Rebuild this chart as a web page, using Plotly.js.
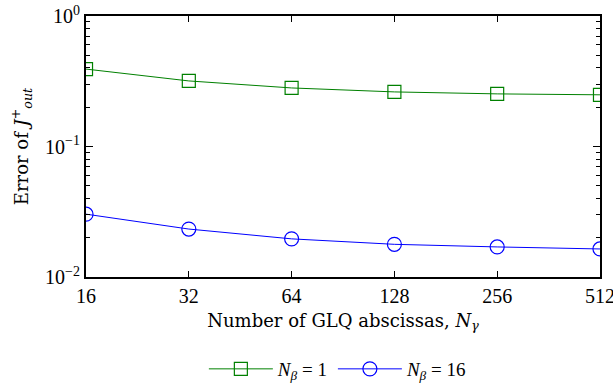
<!DOCTYPE html>
<html><head><meta charset="utf-8">
<script src="https://cdn.plot.ly/plotly-3.0.1.min.js"></script>
<style>body{margin:0;padding:0;background:#fff}#plot{width:613px;height:388px}</style>
</head><body><div id="plot"></div>
<script>
const nGamma = [16, 32, 64, 128, 256, 512];
const xTickLabels = ['16', '32', '64', '128', '256', '512'];
const errNb1 = [0.392, 0.318, 0.281, 0.262, 0.253, 0.249];
const errNb16 = [0.0303, 0.0233, 0.0196, 0.0178, 0.0170, 0.0164];
const yTickVals = [1, 0.1, 0.01];
const yTickLabels = ['10<sup>0</sup>', '10<sup>−1</sup>', '10<sup>−2</sup>'];
const yMinorVals = [0.02,0.03,0.04,0.05,0.06,0.07,0.08,0.09,0.2,0.3,0.4,0.5,0.6,0.7,0.8,0.9];

const tickFam = 'Liberation Serif, Times New Roman, serif';
const titleFam = 'DejaVu Serif, Liberation Serif, serif';
const eps = 1e-4;
const H = 388, T = 16, B = 0, plotBottom = 277;
const innerH = H - T - B;
const traces = [
  {x: nGamma, y: errNb1, mode: 'lines+markers', name: '<i>N</i><sub><i>β</i></sub> = 1',
   line: {color: '#008000', width: 1},
   marker: {symbol: 'square-open', size: 13, color: '#008000', line: {width: 1.2}}},
  {x: nGamma, y: errNb16, mode: 'lines+markers', name: '<i>N</i><sub><i>β</i></sub> = 16',
   line: {color: '#0000ff', width: 1},
   marker: {symbol: 'circle-open', size: 14, color: '#0000ff', line: {width: 1.2}}},
  {x: nGamma, y: errNb1, yaxis: 'y2', mode: 'lines', showlegend: false, hoverinfo: 'skip',
   line: {color: 'rgba(0,0,0,0)', width: 0}}
];
const yDom = [(H - B - plotBottom) / innerH, 1];
const layout = {
  width: 613, height: H,
  margin: {l: 86, r: 13, t: T, b: B},
  paper_bgcolor: '#fff', plot_bgcolor: '#fff',
  font: {family: tickFam, size: 20, color: '#000'},
  showlegend: true,
  legend: {orientation: 'h', x: 0.49, xanchor: 'center', y: (H - B - 369) / innerH, yanchor: 'middle',
           font: {family: tickFam, size: 19}, itemwidth: 64, tracegroupgap: 0},
  xaxis: {type: 'log', range: [Math.log10(16) - eps, Math.log10(512) + eps],
          tickvals: nGamma, ticktext: xTickLabels, ticklabeloverflow: 'allow',
          ticks: 'inside', ticklen: 6, tickwidth: 1, tickcolor: '#000',
          showline: true, linewidth: 2, linecolor: '#000', mirror: 'ticks',
          showgrid: false, zeroline: false,
          tickfont: {family: tickFam, size: 20},
          title: {text: 'Number of GLQ abscissas, <i>N</i><sub><i>γ</i></sub>', font: {family: titleFam, size: 18}, standoff: 8}},
  yaxis: {type: 'log', range: [-2, 0], domain: yDom,
          tickvals: yTickVals, ticktext: yTickLabels, ticklabeloverflow: 'allow',
          ticks: 'inside', ticklen: 7, tickwidth: 1, tickcolor: '#000',
          showline: true, linewidth: 2, linecolor: '#000', mirror: 'ticks',
          showgrid: false, zeroline: false,
          tickfont: {family: tickFam, size: 20},
          title: {text: 'Error of <i>J</i><sup>+</sup><sub><i>out</i></sub>', font: {family: titleFam, size: 18}, standoff: 12}},
  yaxis2: {type: 'log', range: [-2, 0], overlaying: 'y', side: 'left',
          tickvals: yMinorVals, showticklabels: false,
          ticks: 'inside', ticklen: 4, tickwidth: 1, tickcolor: '#000',
          showline: false, mirror: 'ticks', showgrid: false, zeroline: false}
};
Plotly.newPlot('plot', traces, layout, {displayModeBar: false, staticPlot: true});
</script></body></html>
